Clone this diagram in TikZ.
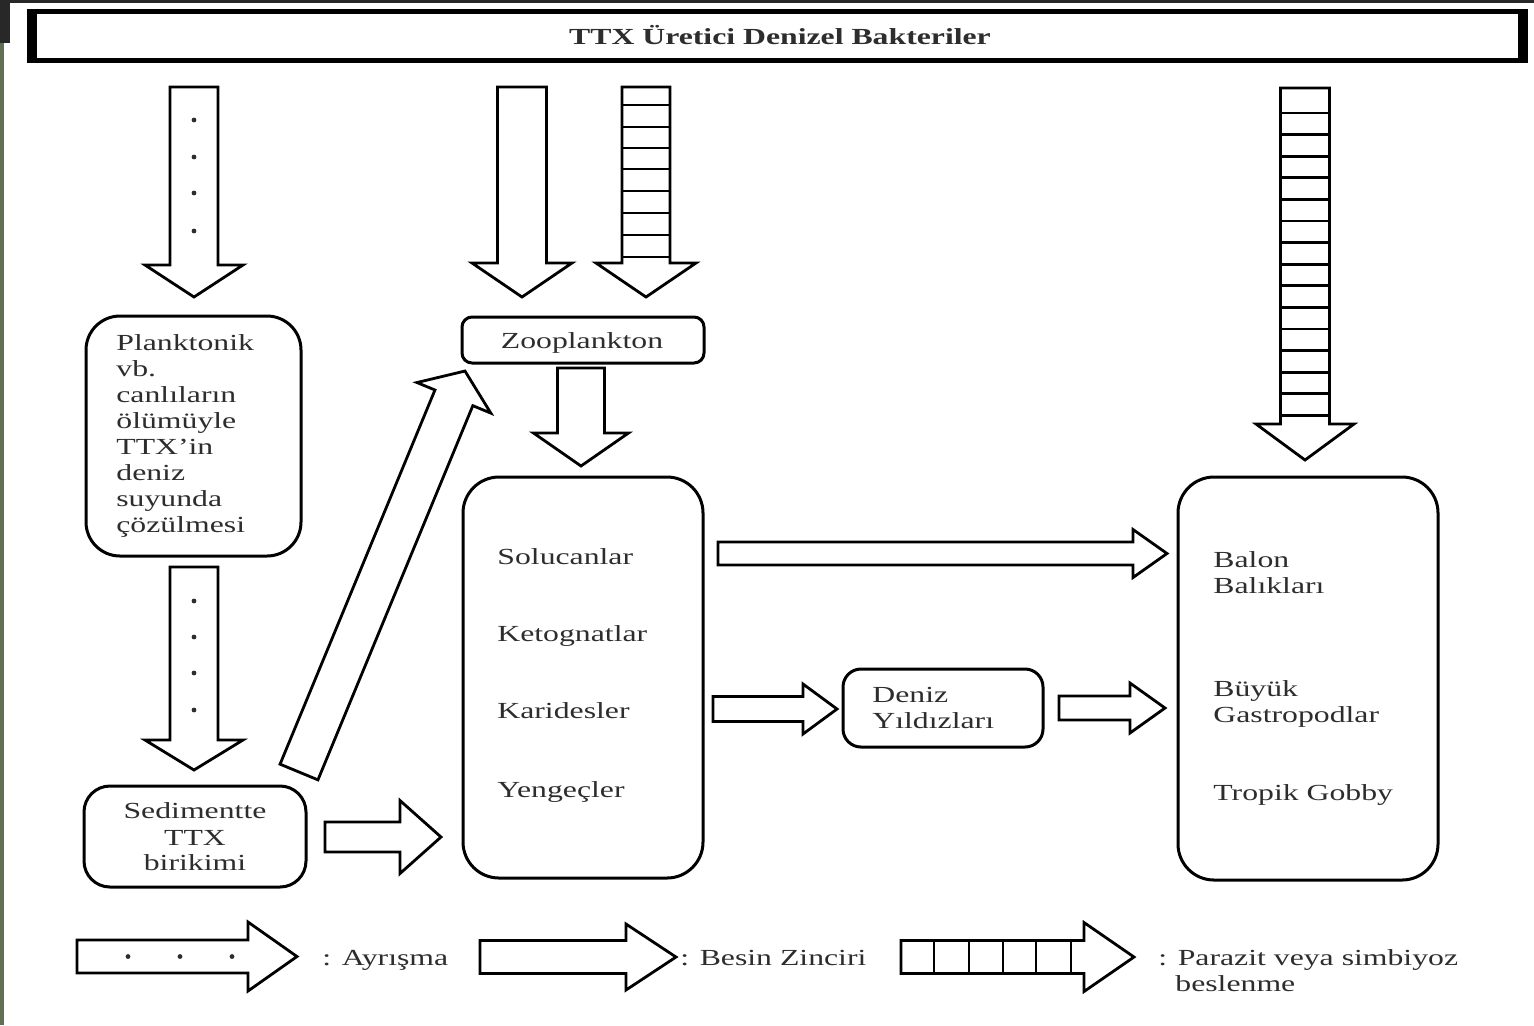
\documentclass[tikz,border=0pt]{standalone}
\usepackage{fontspec}
\setmainfont{Liberation Serif}[FakeStretch=1.38]
\usetikzlibrary{calc,fit}
\definecolor{txt}{RGB}{45,45,45}
\definecolor{frameolive}{RGB}{95,112,85}
\definecolor{framedark}{RGB}{40,40,40}
% block arrow: #1 start coord, #2 tip coord, #3 shaft half width, #4 head half width, #5 head length, #6 extra code (local frame)
\newcommand\barrow[6]{%
  \path let \p1=(#1), \p2=(#2) in (#1)
    \pgfextra{%
      \pgfmathsetmacro\tmpang{atan2(\y2-\y1,\x2-\x1)}%
      \pgfmathsetmacro\tmplen{2*veclen(\x2-\x1,\y2-\y1)}%
      \xdef\bang{\tmpang}\xdef\blen{\tmplen}};
  \begin{scope}[shift={(#1)},rotate=\bang]
    \pgfmathsetmacro\bbase{\blen-#5}%
    \path[arrowline] (0,#3) -- (\bbase,#3) -- (\bbase,#4) -- (\blen,0)
      -- (\bbase,-#4) -- (\bbase,-#3) -- (0,-#3) -- cycle;
    #6
  \end{scope}}
\begin{document}
\begin{tikzpicture}[x=0.5pt,y=-0.5pt,
  every node/.style={font=\fontsize{11.5pt}{13pt}\selectfont, text=txt, inner sep=0pt},
  box/.style={draw=black, line width=1.5pt},
  lbl/.style={anchor=base west},
  clbl/.style={anchor=base},
  arrowline/.style={draw=black, fill=white, line width=1.4pt, line join=miter},
  rung/.style={draw=black, line width=1.4pt},
  dotmark/.style={fill=txt}]
\useasboundingbox (0,0) rectangle (1534,1025);
% page frame remnants
\fill[white] (0,0) rectangle (1534,1025);
\fill[framedark] (0,0) rectangle (1534,3);
\fill[framedark] (0,0) rectangle (10,43);
\fill[frameolive] (0,43) rectangle (3.5,1025);

% title box
\node[draw=black, line width=2.5pt, fit={(29.5,11.5) (1525.5,60.5)}] (title) {};
\fill[black] (27,9) rectangle (37,63);
\fill[black] (1518,9) rectangle (1528,63);
\node[clbl, font=\fontsize{11.5pt}{13pt}\selectfont\bfseries] (titletext) at (780,44) {TTX Üretici Denizel Bakteriler};

% boxes
\node[box, rounded corners=17pt, fit={(86,316) (301,556)}] (plank) {};
\node[box, rounded corners=13pt, fit={(84,786) (306,887)}] (sed) {};
\node[box, rounded corners=5pt, fit={(462,317) (704,363)}] (zoo) {};
\node[box, rounded corners=18pt, fit={(463,477) (703,878)}] (mid) {};
\node[box, rounded corners=9pt, fit={(843,669) (1043,747)}] (deniz) {};
\node[box, rounded corners=18pt, fit={(1178,477) (1438,880)}] (right) {};

% texts
\node[lbl] (p1) at (116,350) {Planktonik};
\node[lbl] (p2) at (116,376) {vb.};
\node[lbl] (p3) at (116,402) {canlıların};
\node[lbl] (p4) at (116,428) {ölümüyle};
\node[lbl] (p5) at (116,454) {TTX'in};
\node[lbl] (p6) at (116,480) {deniz};
\node[lbl] (p7) at (116,506) {suyunda};
\node[lbl] (p8) at (116,532) {çözülmesi};

\node[clbl] (s1) at (195,818) {Sedimentte};
\node[clbl] (s2) at (195,845) {TTX};
\node[clbl] (s3) at (195,870) {birikimi};

\node[clbl] (zt) at (582,348) {Zooplankton};

\node[lbl] (m1) at (497,564) {Solucanlar};
\node[lbl] (m2) at (497,641) {Ketognatlar};
\node[lbl] (m3) at (497,718) {Karidesler};
\node[lbl] (m4) at (497,797) {Yengeçler};

\node[lbl] (d1) at (872,702) {Deniz};
\node[lbl] (d2) at (872,728) {Yıldızları};

\node[lbl] (r1) at (1213,567) {Balon};
\node[lbl] (r2) at (1213,593) {Balıkları};
\node[lbl] (r3) at (1213,696) {Büyük};
\node[lbl] (r4) at (1213,722) {Gastropodlar};
\node[lbl] (r5) at (1213,800) {Tropik Gobby};

% arrow end coordinates
\coordinate (a1s) at (194,87);   \coordinate (a1e) at (194,297);
\coordinate (a2s) at (194,567);  \coordinate (a2e) at (194,770);
\coordinate (a3s) at (522,87);   \coordinate (a3e) at (522,297);
\coordinate (a4s) at (646,87);   \coordinate (a4e) at (646,297);
\coordinate (a5s) at (581,368);  \coordinate (a5e) at (581,466);
\coordinate (a6s) at (1305,88);  \coordinate (a6e) at (1305,460);
\coordinate (a7s) at (718,553.5);\coordinate (a7e) at (1167,553.5);
\coordinate (a8s) at (713,709);  \coordinate (a8e) at (837,709);
\coordinate (a9s) at (1059,708); \coordinate (a9e) at (1165,708);
\coordinate (a10s) at (325,837); \coordinate (a10e) at (441,837);
\coordinate (a11s) at (299,772); \coordinate (a11e) at (465,371);
\coordinate (l1s) at (77,956.5); \coordinate (l1e) at (297,956.5);
\coordinate (l2s) at (480,957);  \coordinate (l2e) at (676,957);
\coordinate (l3s) at (901,957);  \coordinate (l3e) at (1134,957);

% arrows
\barrow{a1s}{a1e}{24}{49}{32}{\foreach \pp in {33,70,106,144}{\fill[dotmark] (\pp,0) circle[radius=1.2pt];}}
\barrow{a2s}{a2e}{24}{49}{30}{\foreach \pp in {34,70,106,143}{\fill[dotmark] (\pp,0) circle[radius=1.2pt];}}
\barrow{a3s}{a3e}{24.5}{50}{34}{}
\barrow{a4s}{a4e}{24}{50}{34}{\foreach \pp in {18,40,61,82,104,126,148,170}{\draw[rung] (\pp,-24) -- (\pp,24);}}
\barrow{a5s}{a5e}{23.5}{47.5}{33}{}
\barrow{a6s}{a6e}{24.5}{49}{36}{\foreach \k in {0,...,14}{\draw[rung] (25+21.6*\k,-24.5) -- (25+21.6*\k,24.5);}}
\barrow{a7s}{a7e}{11.5}{24}{34}{}
\barrow{a8s}{a8e}{12.5}{25}{34}{}
\barrow{a9s}{a9e}{12}{25}{35}{}
\barrow{a10s}{a10e}{15}{36.5}{41}{}
\barrow{a11s}{a11e}{20.5}{40}{29}{}

% legend
\barrow{l1s}{l1e}{16.5}{34.5}{49}{\foreach \pp in {51,103,155}{\fill[dotmark] (\pp,0) circle[radius=1.2pt];}}
\barrow{l2s}{l2e}{16.5}{33}{50}{}
\barrow{l3s}{l3e}{16.5}{34.5}{50}{\foreach \pp in {33,68,102,135,170}{\draw[rung] (\pp,-16.5) -- (\pp,16.5);}}
\node[lbl] (lt1) at (322,965) {: Ayrışma};
\node[lbl] (lt2) at (680,965) {: Besin Zinciri};
\node[lbl] (lt3) at (1158,965) {: Parazit veya simbiyoz};
\node[lbl] (lt4) at (1175,991) {beslenme};
\end{tikzpicture}
\end{document}
